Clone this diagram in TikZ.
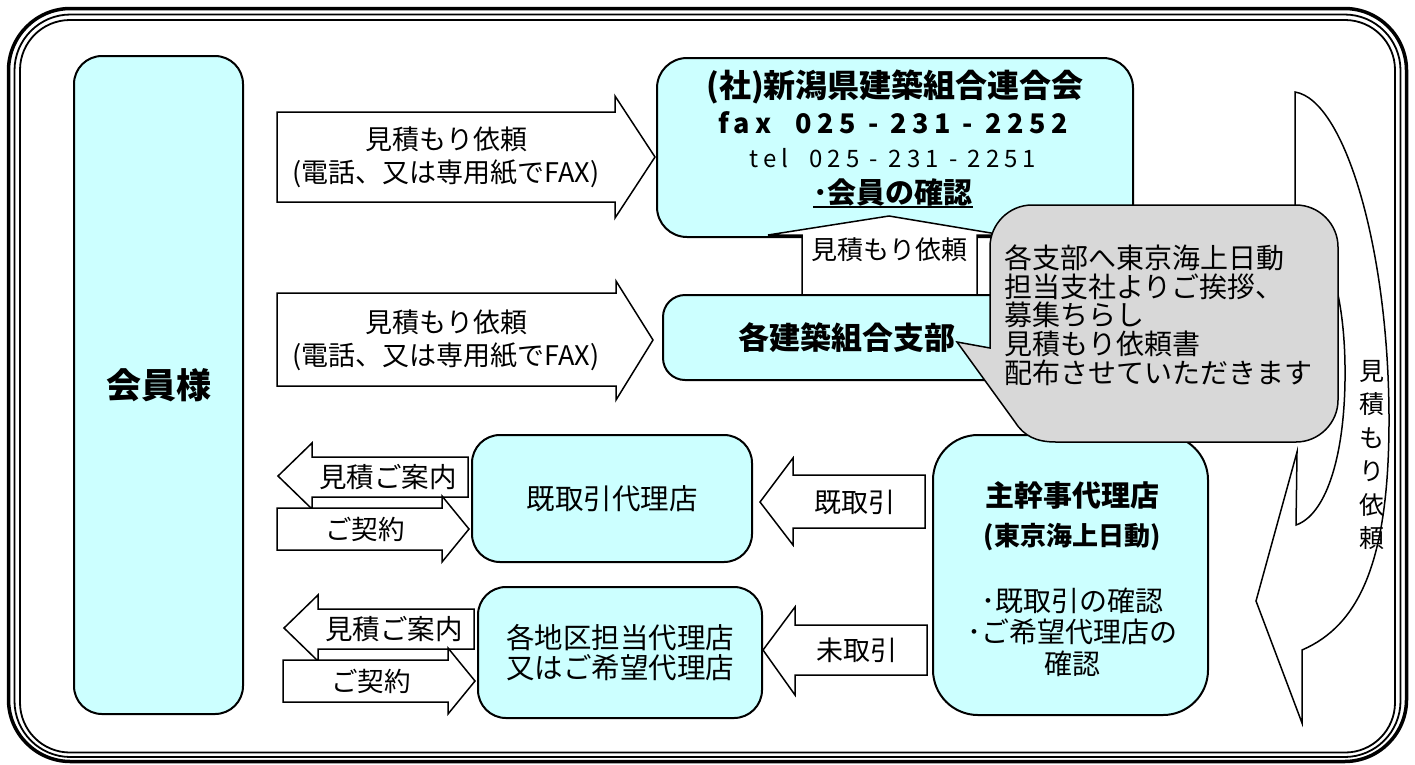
\documentclass[tikz,border=0pt]{standalone}
\usepackage{fontspec}
\setmainfont{Noto Sans CJK JP}
\newfontfamily\spacedfont[LetterSpace=21]{Noto Sans CJK JP}
\usetikzlibrary{calc}
\definecolor{memberfill}{RGB}{204,255,255}
\definecolor{notefill}{RGB}{216,216,216}
\newcommand{\fsz}[2]{\fontsize{#1}{#2}\selectfont}

\tikzset{
  every node/.style={inner sep=0pt, align=center},
  cbox/.style={draw, line width=2pt, fill=memberfill, rounded corners=#1},
  cbox/.default=28pt,
  barrow/.style={draw, line width=1.5pt, fill=white},
  lbl/.style={font=\fsz{27}{30}},
  lblb/.style={font=\bfseries\fsz{#1}{#1}},
}

\begin{document}
\begin{tikzpicture}[x=1pt,y=-1pt]
\useasboundingbox (0,0) rectangle (1415,764);

\draw[line width=3.5pt, rounded corners=62pt] (8.5,8.5) rectangle (1406.5,761.5);
\draw[line width=1.8pt, rounded corners=56pt] (14.5,14.5) rectangle (1400.5,757);
\draw[line width=1.8pt, rounded corners=50pt] (20,20) rectangle (1395,752.5);

\node[cbox, minimum width=169pt, minimum height=658pt, lblb=35] (member) at (158.5,385) {会員様};

% requests to the federation and the branches
\draw[barrow] (277,112) -- (615,112) -- (615,96) -- (655,157) -- (615,218) -- (615,202) -- (277,202) -- cycle;
\draw[barrow] (277,293) -- (616,293) -- (616,281) -- (653,340) -- (616,400) -- (616,386) -- (277,386) -- cycle;
\node[lbl] (req1a) at (446,139) {見積もり依頼};
\node[lbl] (req1b) at (446,174) {(電話、又は専用紙でFAX)};
\node[lbl] (req2a) at (446,322) {見積もり依頼};
\node[lbl] (req2b) at (446,357) {(電話、又は専用紙でFAX)};

\node[cbox=30pt, minimum width=476pt, minimum height=179pt] (fed) at (895,147.5) {};
\node[lblb=32] (fedTitle) at (895,87) {(社)新潟県建築組合連合会};
\node[font=\spacedfont\bfseries\fsz{27}{27}] (fedFax) at (893,123) {fax\ \ 025 - 231 - 2252};
\node[font=\spacedfont\fsz{24}{24}] (fedTel) at (893,158) {tel\ \ 025 - 231 - 2251};
\node[lblb=29] (fedCheck) at (893,192) {･会員の確認};
\draw[line width=2pt] ([yshift=-1pt]fedCheck.south west) -- ([yshift=-1pt]fedCheck.south east);

\draw[barrow] (802,296) -- (802,235) -- (768,235) -- (889,216) -- (1003,235) -- (977,235) -- (977,296) -- cycle;
\node[font=\fsz{26}{26}] (upReq) at (889,250) {見積もり依頼};

\node[cbox=22pt, minimum width=368pt, minimum height=85pt, lblb=31] (branch) at (847,337.5) {各建築組合支部};

% agents
\node[cbox, minimum width=280pt, minimum height=127pt, font=\fsz{28.5}{30}] (agentOld) at (612,498.5) {既取引代理店};
\node[cbox, minimum width=284pt, minimum height=131pt, font=\fsz{28.5}{30}] (agentArea) at (620,652.5) {各地区担当代理店\\又はご希望代理店};

\foreach \n/\dx/\dy in {1/0/0,2/6/152}{
\begin{scope}[shift={(\dx,\dy)}]
\draw[barrow] (468,457) -- (312,457) -- (312,443) -- (278,476) -- (312,509) -- (312,497) -- (468,497) -- cycle;
\draw[barrow] (277,508) -- (442,508) -- (442,496) -- (469,529) -- (442,562) -- (442,550) -- (277,550) -- cycle;
\node[font=\fsz{27.5}{28}] (quote\n) at (388,477) {見積ご案内};
\node[font=\fsz{26.5}{27}] (contract\n) at (365,529) {ご契約};
\end{scope}
}

\draw[barrow] (925,475) -- (793,475) -- (793,458) -- (760,502) -- (793,545) -- (793,528) -- (925,528) -- cycle;
\draw[barrow] (927,625) -- (795,625) -- (795,607) -- (763,650) -- (795,695) -- (795,675) -- (927,675) -- cycle;
\node[lbl] (oldDeal) at (855,502) {既取引};
\node[lbl] (newDeal) at (857,650) {未取引};

\node[cbox=45pt, minimum width=275pt, minimum height=280pt] (lead) at (1070.5,575) {};
\node[lblb=29] (leadA) at (1072,495) {主幹事代理店};
\node[lblb=26] (leadB) at (1072,537) {(東京海上日動)};
\node[font=\fsz{28}{31.5}] (leadC) at (1072,632) {･既取引の確認\\･ご希望代理店の\\確認};

% curved request arrow
\draw[barrow] (1295,92) -- (1295,210) .. controls (1330,240) and (1346,300) .. (1345,380)
  .. controls (1344,460) and (1325,515) .. (1296,525) -- (1297,452) -- (1256,601) -- (1302,723)
  -- (1302,650) .. controls (1360,625) and (1389,560) .. (1389,420)
  .. controls (1389,250) and (1345,100) .. (1295,92) -- cycle;

% note bubble
\draw[line width=1.5pt, fill=notefill] (957,342) -- (1015,422) .. controls (1024,436) and (1036,442) .. (1056,442)
  -- (1296,442) .. controls (1319,442) and (1338,423) .. (1338,400) -- (1338,247)
  .. controls (1338,224) and (1319,205) .. (1296,205) -- (1032,205)
  .. controls (1009,205) and (990,224) .. (990,247) -- (990,348) -- cycle;
\node[anchor=west, align=left, font=\fsz{28}{28.7}] (noteText) at (1004,315)
  {各支部へ東京海上日動\\担当支社よりご挨拶、\\募集ちらし\\見積もり依頼書\\配布させていただきます};

\node[font=\fsz{25}{33.5}] (sideReq) at (1372,455) {見\\積\\も\\り\\依\\頼};

\end{tikzpicture}
\end{document}
